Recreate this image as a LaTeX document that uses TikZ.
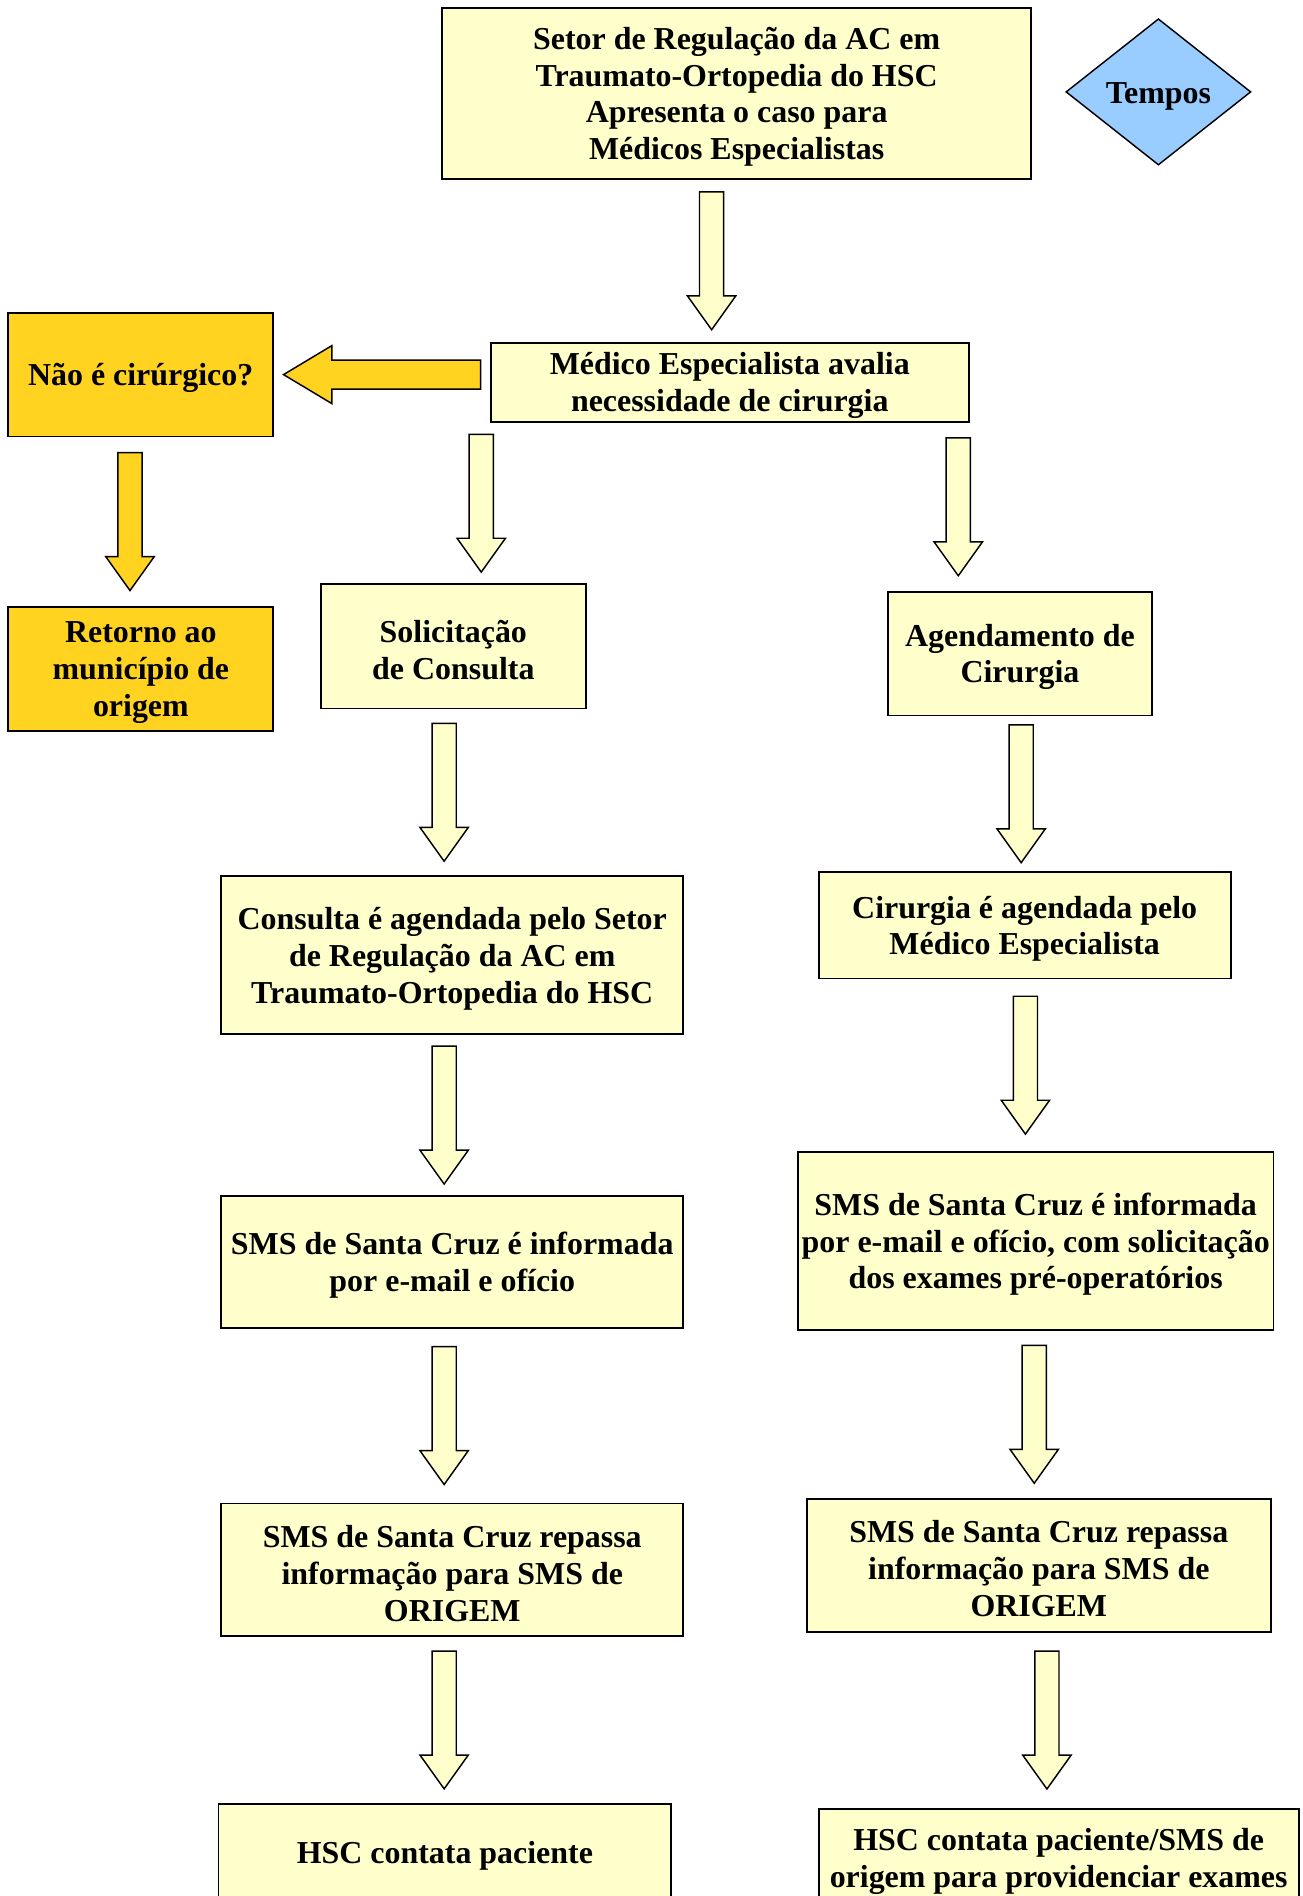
\documentclass[tikz,border=0pt]{standalone}
\usepackage{fontspec}
\setmainfont{Liberation Serif}
\usetikzlibrary{calc}
\usetikzlibrary{shapes.geometric}
\definecolor{cream}{HTML}{FFFFCC}
\definecolor{gold}{HTML}{FFD320}
\definecolor{skyblue}{HTML}{99CCFF}
% taller first line, so the text sits a little lower in its box
\newcommand{\topgap}{\rule{0pt}{12pt}}
% block arrow pointing down, centred in the gap between two boxes
\newcommand{\vblock}[4][cream]{%
	\draw[blockline,fill=#1] let \p1=(#2,0), \p2=($(#3.south)!.5!(#4.north)$) in
	(\x1-5pt,\y2+28.5pt) -- (\x1+5pt,\y2+28.5pt) -- (\x1+5pt,\y2-14.5pt) -- (\x1+10pt,\y2-14.5pt)
	-- (\x1,\y2-28.5pt) -- (\x1-10pt,\y2-14.5pt) -- (\x1-5pt,\y2-14.5pt) -- cycle;}
% block arrow pointing left
\newcommand{\hblock}[3][gold]{%
	\draw[blockline,fill=#1] let \p1=($(#2.west |- #3.east)!.5!(#3.east)$) in
	(\x1+40.75pt,\y1+6pt) -- (\x1-20.75pt,\y1+6pt) -- (\x1-20.75pt,\y1+12pt) -- (\x1-40.75pt,\y1)
	-- (\x1-20.75pt,\y1-12pt) -- (\x1-20.75pt,\y1-6pt) -- (\x1+40.75pt,\y1-6pt) -- cycle;}

\begin{document}
\begin{tikzpicture}[x=0.5pt,y=-0.5pt,
		box/.style={rectangle,draw=black,line width=0.8pt,fill=cream,align=center,inner sep=0pt,
			font=\bfseries\fontsize{13.2}{15.2}\selectfont},
		goldbox/.style={box,fill=gold},
		decision/.style={diamond,draw=black,line width=0.6pt,fill=skyblue,inner sep=0pt,
			font=\bfseries\fontsize{13.2}{15.2}\selectfont},
		blockline/.style={draw=black,line width=0.6pt}]
		\useasboundingbox (0,0) rectangle (1077,1568);
		\clip (0,0) rectangle (1077,1568);
		% Draw top boxes
		\node[box,minimum width=243.5pt,minimum height=70.8pt] (setor) at (609.2,77.2) {\topgap Setor de Regulação da AC em\\Traumato-Ortopedia do HSC\\Apresenta o caso para\\Médicos Especialistas};
		\node[decision,minimum width=76.5pt,minimum height=60.5pt] (tempos) at (958,76) {\topgap Tempos};
		\node[box,minimum width=197.5pt,minimum height=32.8pt] (medico) at (603.5,316.2) {\topgap Médico Especialista avalia\\necessidade de cirurgia};
		\node[goldbox,minimum width=109.7pt,minimum height=51.2pt] (nao) at (116.3,309.8) {\topgap Não é cirúrgico?};
		\node[goldbox,minimum width=109.5pt,minimum height=51.2pt] (retorno) at (116.5,553) {\topgap Retorno ao\\município de\\origem};
		% Draw left column
		\node[box,minimum width=109.6pt,minimum height=51.3pt] (solicit) at (374.9,534.6) {\topgap Solicitação\\de Consulta};
		\node[box,minimum width=191.2pt,minimum height=65.4pt] (consulta) at (374,790) {\topgap Consulta é agendada pelo Setor\\de Regulação da AC em\\Traumato-Ortopedia do HSC};
		\node[box,minimum width=191.2pt,minimum height=54.5pt] (smsL) at (374,1043.5) {\topgap SMS de Santa Cruz é informada\\por e-mail e ofício};
		\node[box,minimum width=191.2pt,minimum height=54.9pt] (repL) at (374,1298.3) {\topgap SMS de Santa Cruz repassa\\informação para SMS de\\ORIGEM};
		\node[box,minimum width=187.2pt,minimum height=40.4pt] (hscL) at (367.9,1532) {\topgap HSC contata paciente};
		% Draw right column
		\node[box,minimum width=109.5pt,minimum height=51.2pt] (agend) at (843.5,540.5) {\topgap Agendamento de\\Cirurgia};
		\node[box,minimum width=170.4pt,minimum height=44pt] (cirurgia) at (847.4,765.2) {\topgap Cirurgia é agendada pelo\\Médico Especialista};
		\node[box,minimum width=196.7pt,minimum height=73.7pt] (smsR) at (856.5,1026.3) {\topgap SMS de Santa Cruz é informada\\por e-mail e ofício, com solicitação\\dos exames pré-operatórios};
		\node[box,minimum width=191.8pt,minimum height=55pt] (repR) at (859.1,1294.3) {\topgap SMS de Santa Cruz repassa\\informação para SMS de\\ORIGEM};
		\node[box,minimum width=198.5pt,minimum height=40.8pt] (hscR) at (875.5,1536.5) {\topgap HSC contata paciente/SMS de\\origem para providenciar exames};
		% Draw arrows
		\vblock{588.5}{setor}{medico}
		\hblock{medico}{nao}
		\vblock[gold]{107.5}{nao}{retorno}
		\vblock{398}{medico}{solicit}
		\vblock{792.5}{medico}{agend}
		\vblock{367.3}{solicit}{consulta}
		\vblock{367.3}{consulta}{smsL}
		\vblock{367.3}{smsL}{repL}
		\vblock{367.3}{repL}{hscL}
		\vblock{844.5}{agend}{cirurgia}
		\vblock{848}{cirurgia}{smsR}
		\vblock{855.3}{smsR}{repR}
		\vblock{865.8}{repR}{hscR}
	\end{tikzpicture}
\end{document}
